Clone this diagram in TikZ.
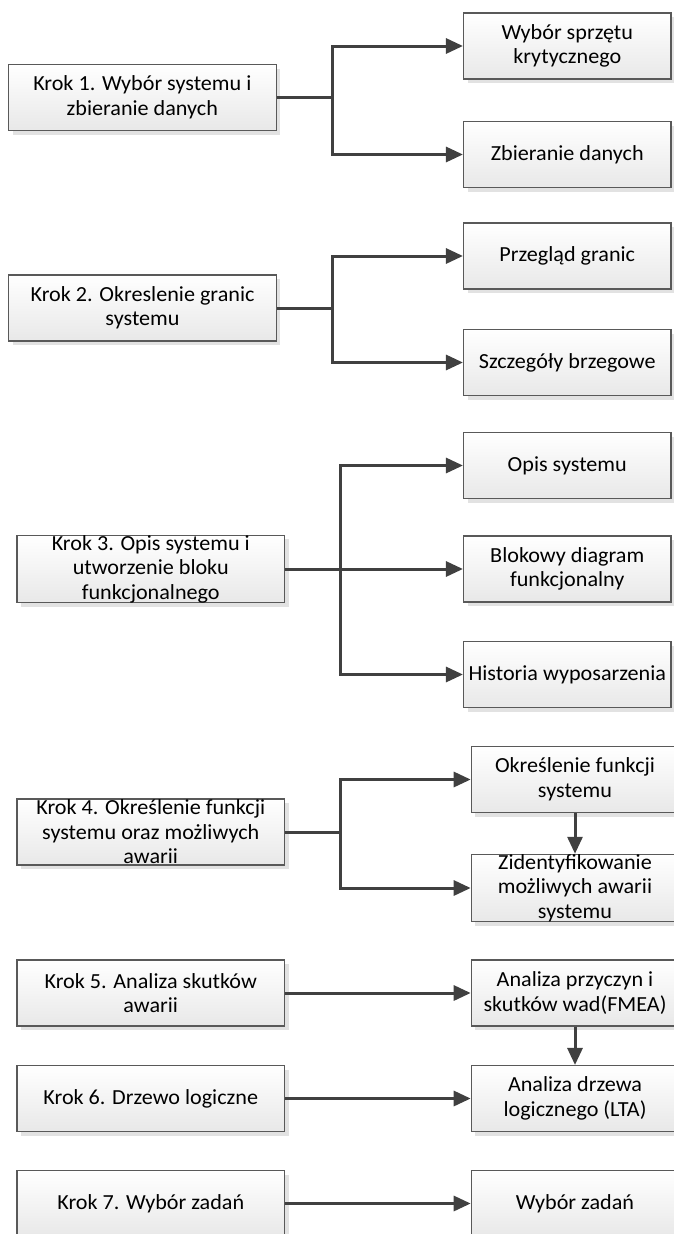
\documentclass[tikz,border=0pt]{standalone}
\usepackage{fontspec}
\setmainfont{Carlito}[FakeStretch=1.03]
\usetikzlibrary{arrows.meta,shadows}
\definecolor{lncol}{HTML}{404040}
\definecolor{bdcol}{HTML}{595959}
\definecolor{shcol}{HTML}{E2E2E2}
\begin{document}
\begin{tikzpicture}[x=1pt,y=-1pt,
  box/.style={draw=bdcol, line width=1.1pt, top color=white, bottom color=black!9,
    drop shadow={shadow xshift=4pt, shadow yshift=-4pt, fill=shcol, opacity=1},
    minimum height=66pt, inner sep=0pt, align=center,
    font=\fontsize{21.5}{24.5}\selectfont},
  lbox/.style={box, minimum width=267.5pt},
  rbox/.style={box, minimum width=207.5pt},
  conn/.style={draw=lncol, line width=3pt},
  arr/.style={conn, -{Triangle[length=17pt,width=15pt]}}]
\useasboundingbox (0,0) rectangle (673,1234);

% Section 1
\node[lbox] (L1) at (142.3,97.5) {Krok 1. Wybór systemu i\\zbieranie danych};
\node[rbox] (R1a) at (567.25,46) {Wybór sprzętu\\krytycznego};
\node[rbox] (R1b) at (567.25,154.5) {Zbieranie danych};
% Section 2
\node[lbox] (L2) at (142.5,308) {Krok 2. Okreslenie granic\\systemu};
\node[rbox] (R2a) at (567.25,256) {Przegląd granic};
\node[rbox] (R2b) at (567.25,362.5) {Szczegóły brzegowe};
% Section 3
\node[lbox] (L3) at (150.75,569) {Krok 3. Opis systemu i\\utworzenie bloku\\funkcjonalnego};
\node[rbox] (R3a) at (567.25,465.5) {Opis systemu};
\node[rbox] (R3b) at (567.25,569) {Blokowy diagram\\funkcjonalny};
\node[rbox] (R3c) at (567.25,674.5) {Historia wyposarzenia};
% Section 4
\node[lbox] (L4) at (150.75,832) {Krok 4. Określenie funkcji\\systemu oraz możliwych\\awarii};
\node[rbox] (R4a) at (575,779.5) {Określenie funkcji\\systemu};
\node[rbox] (R4b) at (575,888) {Zidentyfikowanie\\możliwych awarii\\systemu};
% Sections 5-7
\node[lbox] (L5) at (150.75,993) {Krok 5. Analiza skutków\\awarii};
\node[rbox] (R5) at (575,993) {Analiza przyczyn i\\skutków wad(FMEA)};
\node[lbox] (L6) at (150.75,1098.5) {Krok 6. Drzewo logiczne};
\node[rbox] (R6) at (575,1098.5) {Analiza drzewa\\logicznego (LTA)};
\node[lbox] (L7) at (150.75,1203.5) {Krok 7. Wybór zadań};
\node[rbox] (R7) at (575,1203.5) {Wybór zadań};

% Connectors
\coordinate (j1) at (332,97.5);
\coordinate (j2) at (332,308);
\coordinate (j3) at (340,569);
\coordinate (j4) at (340,832);

\draw[conn] (L1.east) -- (j1);
\draw[arr] (j1) |- (R1a.west);
\draw[arr] (j1) |- (R1b.west);

\draw[conn] (L2.east) -- (j2);
\draw[arr] (j2) |- (R2a.west);
\draw[arr] (j2) |- (R2b.west);

\draw[arr] (L3.east) -- (R3b.west);
\draw[arr] (j3) |- (R3a.west);
\draw[arr] (j3) |- (R3c.west);

\draw[conn] (L4.east) -- (j4);
\draw[arr] (j4) |- (R4a.west);
\draw[arr] (j4) |- (R4b.west);
\draw[arr] (R4a.south) -- (R4b.north);

\draw[arr] (L5.east) -- (R5.west);
\draw[arr] (R5.south) -- (R6.north);
\draw[arr] (L6.east) -- (R6.west);
\draw[arr] (L7.east) -- (R7.west);
\end{tikzpicture}
\end{document}
